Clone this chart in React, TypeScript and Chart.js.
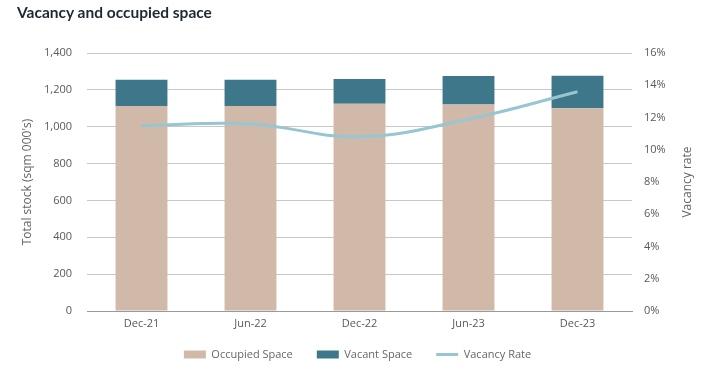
import React, { useEffect, useRef } from "react";
import { Chart, registerables } from "chart.js";

Chart.register(...registerables);

const categories = ["Dec-21", "Jun-22", "Dec-22", "Jun-23", "Dec-23"];
const occupiedSpace = [1112, 1112, 1125, 1121, 1100];
const vacantSpace = [143, 143, 134, 154, 177];
const vacancyRate = [11.5, 11.6, 10.8, 11.9, 13.6];
const seriesNames = ["Occupied Space", "Vacant Space", "Vacancy Rate"];
const leftAxisTitle = "Total stock (sqm 000's)";
const rightAxisTitle = "Vacancy rate";
const chartTitle = "Vacancy and occupied space";

const OCC = "#d0b9a8";
const VAC = "#3f778a";
const RATE = "#98c6d0";
const TICK = "#595959";
const FONT = "'Open Sans', 'Noto Sans', sans-serif";

const extrasPlugin = {
  id: "extras",
  afterLayout(chart: any) {
    const l = chart.legend;
    if (l) {
      l.top -= 7;
      l.bottom -= 7;
    }
  },
  afterDraw(chart: any) {
    const { ctx, chartArea } = chart;
    ctx.save();
    ctx.translate(688, (chartArea.top + chartArea.bottom) / 2);
    ctx.rotate(-Math.PI / 2);
    ctx.font = `12px ${FONT}`;
    ctx.fillStyle = "#666666";
    ctx.textAlign = "center";
    ctx.textBaseline = "middle";
    ctx.fillText(rightAxisTitle, 0, 0);
    ctx.restore();
  },
};

export default function App() {
  const ref = useRef<HTMLCanvasElement>(null);

  useEffect(() => {
    if (!ref.current) return;
    Chart.defaults.font.family = FONT;
    const chart = new Chart(ref.current, {
      type: "bar",
      data: {
        labels: categories,
        datasets: [
          {
            type: "bar",
            label: seriesNames[0],
            data: occupiedSpace,
            backgroundColor: OCC,
            yAxisID: "y",
            stack: "space",
            order: 2,
            categoryPercentage: 1,
            barPercentage: 0.476,
          },
          {
            type: "bar",
            label: seriesNames[1],
            data: vacantSpace,
            backgroundColor: VAC,
            yAxisID: "y",
            stack: "space",
            order: 2,
            categoryPercentage: 1,
            barPercentage: 0.476,
          },
          {
            type: "line",
            label: seriesNames[2],
            data: vacancyRate,
            borderColor: RATE,
            backgroundColor: RATE,
            borderWidth: 3,
            pointRadius: 0,
            tension: 0.4,
            yAxisID: "yRate",
            order: 1,
          } as any,
        ],
      },
      plugins: [extrasPlugin],
      options: {
        responsive: false,
        animation: false,
        devicePixelRatio: 1,
        layout: { padding: { top: 53, bottom: 4, left: 0, right: 0 } },
        plugins: {
          title: { display: false },
          tooltip: { enabled: false },
          legend: {
            position: "bottom",
            labels: {
              usePointStyle: true,
              pointStyleWidth: 22,
              boxHeight: 8,
              padding: 24,
              color: "#666666",
              font: { size: 11, family: FONT },
              generateLabels: (c: any) =>
                c.data.datasets.map((ds: any, i: number) => ({
                  text: ds.label,
                  fillStyle: i === 2 ? "rgba(0,0,0,0)" : ds.backgroundColor,
                  strokeStyle: i === 2 ? ds.borderColor : ds.backgroundColor,
                  lineWidth: i === 2 ? 3 : 0,
                  pointStyle: i === 2 ? "line" : "rect",
                  datasetIndex: i,
                  hidden: false,
                  fontColor: "#666666",
                })),
            },
          },
        },
        scales: {
          x: {
            stacked: true,
            grid: { display: false, drawTicks: false },
            border: { display: true, color: "#999999" },
            ticks: { color: TICK, font: { size: 11 }, padding: 6 },
            afterFit: (s: any) => {
              s.height = 21;
            },
          },
          y: {
            stacked: true,
            position: "left",
            min: 0,
            max: 1400,
            ticks: {
              stepSize: 200,
              color: TICK,
              font: { size: 11 },
              padding: 15,
              callback: (v: any) => Number(v).toLocaleString("en-US"),
            },
            grid: {
              drawTicks: false,
              color: (ctx: any) => (ctx.tick && ctx.tick.value === 0 ? "#999999" : "#c8c8c8"),
            },
            border: { display: false },
            title: {
              display: true,
              text: leftAxisTitle,
              color: "#666666",
              font: { size: 12 },
              padding: { top: 20, bottom: 0 },
            },
            afterFit: (s: any) => {
              s.width = 87;
            },
          },
          yRate: {
            position: "right",
            min: 0,
            max: 16,
            ticks: {
              stepSize: 2,
              color: TICK,
              font: { size: 11 },
              padding: 12,
              callback: (v: any) => `${v}%`,
            },
            grid: { drawOnChartArea: false, drawTicks: false },
            border: { display: false },
            title: { display: false },
            afterFit: (s: any) => {
              s.width = 83;
            },
          },
        },
      },
    });
    return () => chart.destroy();
  }, []);

  return (
    <div style={{ position: "fixed", left: 0, top: 0, width: 715, height: 381, background: "#fff" }}>
      <div
        style={{
          position: "absolute",
          left: 17,
          top: 0,
          lineHeight: "25px",
          fontFamily: "Lato, 'Open Sans', sans-serif",
          fontWeight: 700,
          fontSize: 15.5,
          color: "#1e2833",
        }}
      >
        {chartTitle}
      </div>
      <canvas ref={ref} width={715} height={381} style={{ display: "block" }} />
    </div>
  );
}
